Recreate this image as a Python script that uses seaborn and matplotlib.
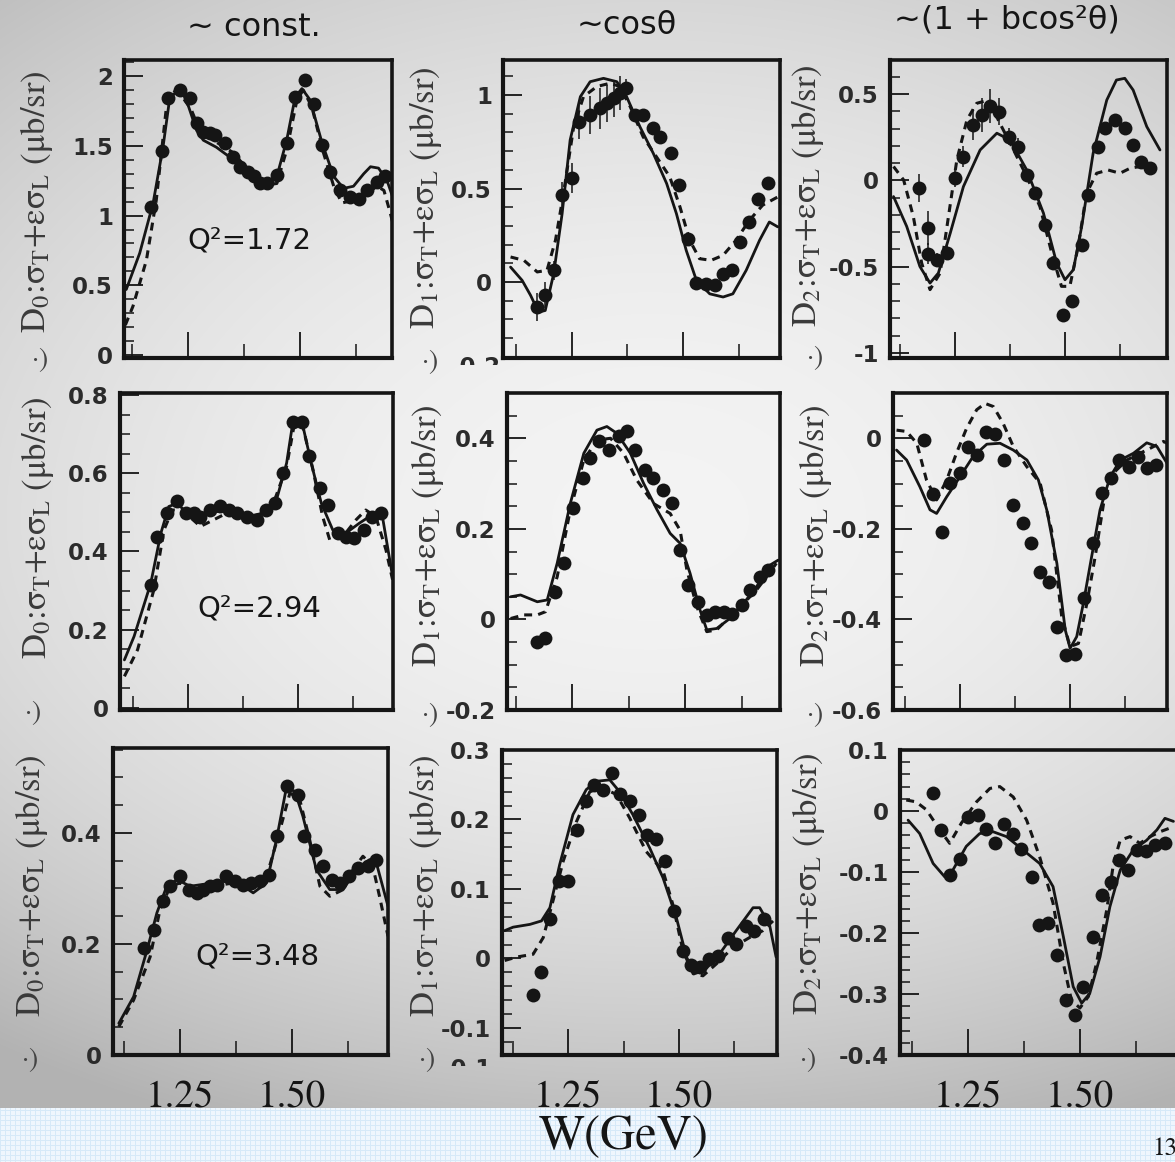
import numpy as np
import matplotlib
matplotlib.use('Agg')
import matplotlib.pyplot as plt
import seaborn as sns
from matplotlib.ticker import MultipleLocator
from matplotlib.transforms import Bbox, TransformedBbox

sns.set_style('ticks')
plt.rcParams['font.family'] = ['DejaVu Sans']
plt.rcParams['mathtext.fontset'] = 'stix'

# ---------------- data ----------------
# row 1, Q2 = 1.72
w_pts_11 = [1.168, 1.192, 1.205, 1.231, 1.254, 1.269, 1.284, 1.299, 1.310, 1.332, 1.351, 1.366, 1.384, 1.396, 1.410,
            1.425, 1.448, 1.470, 1.489, 1.511, 1.530, 1.549, 1.567, 1.590, 1.612, 1.631, 1.649, 1.672, 1.690]
d_pts_11 = [1.06, 1.46, 1.84, 1.90, 1.84, 1.66, 1.60, 1.59, 1.58, 1.52, 1.42, 1.35, 1.31, 1.28, 1.235,
            1.235, 1.29, 1.52, 1.85, 1.97, 1.80, 1.505, 1.31, 1.18, 1.135, 1.12, 1.18, 1.24, 1.28]
w_sol_11 = [1.112, 1.142, 1.172, 1.194, 1.209, 1.231, 1.246, 1.269, 1.284, 1.313, 1.351, 1.396, 1.425, 1.448,
            1.470, 1.489, 1.504, 1.522, 1.549, 1.575, 1.597, 1.619, 1.642, 1.657, 1.675, 1.694, 1.709]
d_sol_11 = [0.47, 0.73, 1.09, 1.49, 1.84, 1.91, 1.83, 1.61, 1.54, 1.49, 1.40, 1.25, 1.22, 1.28,
            1.54, 1.85, 1.91, 1.83, 1.52, 1.28, 1.195, 1.21, 1.30, 1.35, 1.34, 1.25, 1.11]
w_dash_11 = [1.110, 1.127, 1.157, 1.179, 1.201, 1.220, 1.235, 1.257, 1.276, 1.306, 1.351, 1.396, 1.425, 1.448,
             1.470, 1.493, 1.507, 1.526, 1.552, 1.575, 1.593, 1.619, 1.649, 1.672, 1.687, 1.701, 1.713]
d_dash_11 = [0.215, 0.35, 0.68, 1.11, 1.76, 1.89, 1.86, 1.76, 1.61, 1.54, 1.45, 1.28, 1.22, 1.23,
             1.47, 1.83, 1.90, 1.78, 1.45, 1.21, 1.09, 1.11, 1.16, 1.21, 1.18, 1.02, 0.87]

w_pts_12 = [1.172, 1.190, 1.209, 1.228, 1.250, 1.267, 1.290, 1.313, 1.328, 1.345, 1.358, 1.372, 1.392, 1.410,
            1.433, 1.449, 1.472, 1.491, 1.510, 1.530, 1.552, 1.571, 1.590, 1.610, 1.627, 1.648, 1.668, 1.690]
d_pts_12 = [-0.134, -0.071, 0.063, 0.464, 0.554, 0.857, 0.893, 0.929, 0.955, 0.982, 1.009, 1.036, 0.893, 0.893,
            0.821, 0.777, 0.688, 0.518, 0.232, -0.005, -0.009, -0.018, 0.045, 0.066, 0.214, 0.321, 0.446, 0.530]
e_pts_12 = [0.075, 0.07, 0.05, 0.07, 0.08, 0.09, 0.10, 0.11, 0.10, 0.10, 0.09, 0.05, 0.02, 0.02,
            0.02, 0.02, 0.02, 0.02, 0.02, 0.02, 0.02, 0.02, 0.02, 0.02, 0.02, 0.02, 0.02, 0.02]
w_sol_12 = [1.112, 1.138, 1.157, 1.175, 1.190, 1.209, 1.228, 1.246, 1.269, 1.291, 1.321, 1.351, 1.373, 1.403,
            1.433, 1.463, 1.485, 1.507, 1.530, 1.560, 1.590, 1.612, 1.642, 1.672, 1.694, 1.713]
d_sol_12 = [0.080, 0.009, -0.071, -0.161, -0.152, 0.045, 0.366, 0.759, 0.991, 1.071, 1.089, 1.071, 0.991, 0.830,
            0.688, 0.527, 0.366, 0.170, 0.009, -0.063, -0.080, -0.063, 0.063, 0.223, 0.321, 0.295]
w_dash_12 = [1.112, 1.142, 1.172, 1.194, 1.213, 1.231, 1.254, 1.276, 1.306, 1.336, 1.358, 1.381, 1.410, 1.440,
             1.470, 1.493, 1.515, 1.537, 1.563, 1.590, 1.619, 1.649, 1.679, 1.713]
d_dash_12 = [0.134, 0.116, 0.054, 0.063, 0.223, 0.473, 0.830, 0.991, 1.045, 1.063, 1.045, 0.938, 0.777, 0.670,
             0.563, 0.402, 0.223, 0.125, 0.116, 0.143, 0.223, 0.330, 0.411, 0.455]

w_pts_13 = [1.169, 1.189, 1.189, 1.208, 1.231, 1.250, 1.269, 1.290, 1.311, 1.330, 1.351, 1.373, 1.392, 1.413,
            1.432, 1.455, 1.473, 1.496, 1.515, 1.538, 1.553, 1.576, 1.591, 1.614, 1.636, 1.655, 1.674, 1.693]
d_pts_13 = [-0.046, -0.277, -0.425, -0.46, -0.421, 0.012, 0.138, 0.321, 0.379, 0.431, 0.398, 0.253, 0.195, 0.032,
            -0.075, -0.258, -0.479, -0.778, -0.701, -0.373, -0.084, 0.195, 0.301, 0.350, 0.301, 0.205, 0.109, 0.070]
e_pts_13 = [0.08, 0.10, 0.06, 0.04, 0.04, 0.05, 0.06, 0.09, 0.10, 0.10, 0.08, 0.05, 0.05, 0.03,
            0.02, 0.02, 0.02, 0.02, 0.02, 0.02, 0.02, 0.02, 0.02, 0.02, 0.02, 0.02, 0.02, 0.02]
w_sol_13 = [1.110, 1.140, 1.170, 1.193, 1.212, 1.239, 1.269, 1.307, 1.345, 1.375, 1.413, 1.451, 1.481, 1.500,
            1.519, 1.538, 1.564, 1.595, 1.617, 1.636, 1.655, 1.686, 1.716]
d_sol_13 = [-0.094, -0.267, -0.499, -0.595, -0.537, -0.306, -0.036, 0.176, 0.273, 0.234, 0.060, -0.190, -0.479, -0.576,
            -0.518, -0.267, 0.157, 0.465, 0.581, 0.591, 0.523, 0.311, 0.176]
w_dash_13 = [1.110, 1.133, 1.155, 1.174, 1.193, 1.216, 1.235, 1.254, 1.277, 1.299, 1.326, 1.352, 1.383, 1.413,
             1.443, 1.470, 1.492, 1.511, 1.530, 1.549, 1.572, 1.598, 1.625, 1.648, 1.670, 1.693, 1.716]
d_dash_13 = [0.08, 0.002, -0.209, -0.479, -0.633, -0.537, -0.209, 0.118, 0.350, 0.446, 0.465, 0.330, 0.176, 0.022,
             -0.152, -0.422, -0.614, -0.614, -0.383, -0.075, 0.041, 0.060, 0.041, 0.070, 0.080, 0.070, 0.060]

# row 2, Q2 = 2.94
w_pts_21 = [1.165, 1.180, 1.203, 1.225, 1.244, 1.263, 1.278, 1.300, 1.323, 1.342, 1.361, 1.383, 1.406, 1.428,
            1.447, 1.466, 1.489, 1.508, 1.526, 1.549, 1.568, 1.590, 1.609, 1.628, 1.650, 1.669, 1.688]
d_pts_21 = [0.315, 0.438, 0.498, 0.528, 0.498, 0.498, 0.489, 0.506, 0.515, 0.506, 0.498, 0.489, 0.481, 0.506,
            0.523, 0.600, 0.732, 0.732, 0.643, 0.562, 0.519, 0.447, 0.438, 0.434, 0.455, 0.489, 0.498]
w_sol_21 = [1.105, 1.127, 1.165, 1.188, 1.206, 1.225, 1.248, 1.293, 1.338, 1.383, 1.421, 1.451, 1.474, 1.489,
            1.508, 1.530, 1.553, 1.579, 1.609, 1.639, 1.662, 1.692, 1.715]
d_sol_21 = [0.123, 0.183, 0.319, 0.447, 0.515, 0.523, 0.498, 0.498, 0.506, 0.489, 0.498, 0.532, 0.626, 0.736,
            0.736, 0.626, 0.523, 0.455, 0.447, 0.472, 0.489, 0.489, 0.336]
w_dash_21 = [1.105, 1.135, 1.172, 1.195, 1.214, 1.236, 1.278, 1.338, 1.398, 1.444, 1.474, 1.492, 1.511, 1.534,
             1.556, 1.572, 1.602, 1.632, 1.654, 1.677, 1.700, 1.715]
d_dash_21 = [0.081, 0.149, 0.302, 0.455, 0.506, 0.506, 0.464, 0.498, 0.481, 0.523, 0.617, 0.728, 0.719, 0.609,
             0.489, 0.430, 0.438, 0.481, 0.506, 0.489, 0.404, 0.328]

w_pts_22 = [1.173, 1.191, 1.213, 1.232, 1.252, 1.274, 1.290, 1.309, 1.331, 1.353, 1.371, 1.390, 1.412, 1.430,
            1.452, 1.471, 1.489, 1.507, 1.529, 1.548, 1.566, 1.585, 1.603, 1.625, 1.643, 1.665, 1.684]
d_pts_22 = [-0.049, -0.042, 0.061, 0.125, 0.245, 0.312, 0.356, 0.393, 0.374, 0.404, 0.415, 0.374, 0.330, 0.312,
            0.286, 0.256, 0.153, 0.076, 0.039, 0.010, 0.017, 0.017, 0.013, 0.032, 0.065, 0.094, 0.109]
w_sol_22 = [1.114, 1.136, 1.173, 1.195, 1.217, 1.246, 1.276, 1.305, 1.327, 1.349, 1.379, 1.408, 1.438, 1.467,
            1.489, 1.511, 1.533, 1.548, 1.570, 1.599, 1.629, 1.658, 1.688, 1.706]
d_sol_22 = [0.050, 0.054, 0.039, 0.043, 0.124, 0.256, 0.367, 0.418, 0.426, 0.411, 0.367, 0.301, 0.242, 0.190,
            0.168, 0.102, 0.021, -0.023, -0.020, 0.002, 0.035, 0.072, 0.120, 0.131]
w_dash_22 = [1.114, 1.143, 1.173, 1.191, 1.217, 1.246, 1.276, 1.305, 1.335, 1.364, 1.393, 1.430, 1.467, 1.489,
             1.504, 1.526, 1.548, 1.570, 1.599, 1.629, 1.658, 1.680, 1.702]
d_dash_22 = [0.002, 0.010, 0.010, 0.017, 0.094, 0.242, 0.352, 0.396, 0.400, 0.367, 0.308, 0.256, 0.234, 0.197,
             0.109, 0.028, -0.027, -0.023, 0.006, 0.035, 0.065, 0.094, 0.124]

w_pts_23 = [1.168, 1.189, 1.210, 1.227, 1.250, 1.269, 1.289, 1.309, 1.330, 1.350, 1.371, 1.392, 1.411, 1.432,
            1.451, 1.471, 1.491, 1.511, 1.532, 1.552, 1.572, 1.592, 1.612, 1.633, 1.655, 1.674, 1.695]
d_pts_23 = [-0.004, -0.123, -0.206, -0.099, -0.077, -0.020, -0.037, 0.013, 0.010, -0.048, -0.147, -0.188, -0.232,
            -0.295, -0.317, -0.416, -0.479, -0.476, -0.353, -0.232, -0.120, -0.088, -0.049, -0.063, -0.042, -0.066,
            -0.059]
w_sol_23 = [1.106, 1.129, 1.159, 1.182, 1.197, 1.220, 1.250, 1.280, 1.311, 1.341, 1.371, 1.402, 1.428, 1.447,
            1.470, 1.489, 1.500, 1.515, 1.530, 1.549, 1.568, 1.591, 1.614, 1.644, 1.674, 1.697, 1.720]
d_sol_23 = [-0.026, -0.048, -0.107, -0.158, -0.166, -0.129, -0.085, -0.040, -0.013, -0.011, -0.026, -0.048, -0.092,
            -0.158, -0.276, -0.423, -0.464, -0.438, -0.365, -0.261, -0.158, -0.085, -0.048, -0.033, -0.010, -0.018,
            -0.055]
w_dash_23 = [1.106, 1.129, 1.152, 1.174, 1.197, 1.220, 1.242, 1.265, 1.288, 1.307, 1.326, 1.348, 1.371, 1.402,
             1.432, 1.458, 1.481, 1.500, 1.519, 1.538, 1.557, 1.576, 1.598, 1.629, 1.659, 1.682, 1.712, 1.720]
d_dash_23 = [0.018, 0.015, -0.011, -0.092, -0.136, -0.092, -0.033, 0.022, 0.063, 0.077, 0.070, 0.033, -0.018,
             -0.063, -0.099, -0.203, -0.394, -0.460, -0.453, -0.365, -0.261, -0.144, -0.077, -0.048, -0.033, -0.022,
             -0.007, -0.011]

# row 3, Q2 = 3.48
w_pts_31 = [1.170, 1.192, 1.211, 1.228, 1.250, 1.269, 1.287, 1.302, 1.317, 1.332, 1.352, 1.372, 1.391, 1.409,
            1.428, 1.449, 1.467, 1.489, 1.512, 1.526, 1.550, 1.569, 1.588, 1.606, 1.627, 1.647, 1.669, 1.688]
d_pts_31 = [0.192, 0.226, 0.277, 0.304, 0.322, 0.298, 0.292, 0.298, 0.304, 0.307, 0.322, 0.313, 0.307, 0.310,
            0.313, 0.325, 0.394, 0.484, 0.469, 0.394, 0.370, 0.340, 0.316, 0.310, 0.322, 0.337, 0.340, 0.352]
w_sol_31 = [1.113, 1.146, 1.176, 1.198, 1.220, 1.243, 1.272, 1.324, 1.369, 1.413, 1.443, 1.465, 1.487, 1.506,
            1.524, 1.554, 1.584, 1.614, 1.643, 1.673, 1.688, 1.714]
d_sol_31 = [0.057, 0.105, 0.189, 0.256, 0.304, 0.316, 0.304, 0.310, 0.316, 0.292, 0.310, 0.388, 0.481, 0.475,
            0.430, 0.334, 0.298, 0.298, 0.334, 0.352, 0.346, 0.268]
w_dash_31 = [1.113, 1.146, 1.183, 1.205, 1.228, 1.250, 1.280, 1.324, 1.369, 1.413, 1.443, 1.469, 1.495, 1.517,
             1.539, 1.562, 1.584, 1.614, 1.636, 1.658, 1.680, 1.695, 1.714]
d_dash_31 = [0.051, 0.099, 0.177, 0.262, 0.304, 0.310, 0.292, 0.304, 0.310, 0.304, 0.322, 0.394, 0.472, 0.460,
             0.388, 0.304, 0.286, 0.298, 0.334, 0.358, 0.340, 0.286, 0.214]

w_pts_32 = [1.170, 1.190, 1.210, 1.230, 1.250, 1.270, 1.291, 1.308, 1.329, 1.350, 1.368, 1.390, 1.410, 1.428,
            1.449, 1.468, 1.488, 1.509, 1.528, 1.548, 1.568, 1.588, 1.610, 1.629, 1.650, 1.670, 1.691]
d_pts_32 = [-0.052, -0.020, 0.057, 0.111, 0.111, 0.185, 0.226, 0.250, 0.243, 0.267, 0.236, 0.226, 0.207, 0.177,
            0.172, 0.140, 0.068, 0.011, -0.010, -0.013, -0.001, 0.004, 0.030, 0.021, 0.047, 0.040, 0.057]
w_sol_32 = [1.107, 1.126, 1.164, 1.190, 1.209, 1.231, 1.261, 1.291, 1.314, 1.344, 1.366, 1.396, 1.434, 1.464,
            1.494, 1.517, 1.535, 1.558, 1.592, 1.629, 1.667, 1.682, 1.704, 1.719]
d_sol_32 = [0.040, 0.045, 0.049, 0.054, 0.073, 0.135, 0.207, 0.243, 0.255, 0.257, 0.240, 0.207, 0.159, 0.116,
            0.059, 0.002, -0.022, -0.017, 0.007, 0.040, 0.073, 0.073, 0.049, 0.002]
w_dash_32 = [1.107, 1.134, 1.171, 1.194, 1.216, 1.239, 1.269, 1.299, 1.329, 1.359, 1.389, 1.426, 1.464, 1.486,
             1.509, 1.532, 1.554, 1.584, 1.622, 1.659, 1.689, 1.712]
d_dash_32 = [-0.003, 0.002, 0.006, 0.030, 0.083, 0.140, 0.197, 0.240, 0.245, 0.236, 0.202, 0.154, 0.126, 0.078,
             0.011, -0.022, -0.025, -0.008, 0.016, 0.030, 0.040, 0.054]

w_pts_33 = [1.172, 1.190, 1.210, 1.231, 1.250, 1.272, 1.291, 1.310, 1.330, 1.351, 1.369, 1.392, 1.409, 1.429,
            1.448, 1.468, 1.489, 1.507, 1.530, 1.549, 1.569, 1.588, 1.608, 1.627, 1.648, 1.668, 1.690]
d_pts_33 = [0.030, -0.031, -0.105, -0.078, -0.010, -0.007, -0.030, -0.053, -0.021, -0.038, -0.063, -0.108, -0.187,
            -0.183, -0.236, -0.310, -0.334, -0.289, -0.206, -0.138, -0.116, -0.081, -0.096, -0.064, -0.065, -0.056,
            -0.052]
w_sol_33 = [1.116, 1.142, 1.172, 1.198, 1.216, 1.246, 1.276, 1.306, 1.336, 1.373, 1.410, 1.440, 1.463, 1.485,
            1.504, 1.522, 1.545, 1.567, 1.590, 1.619, 1.649, 1.672, 1.690, 1.709]
d_sol_33 = [-0.015, -0.037, -0.086, -0.108, -0.097, -0.058, -0.037, -0.034, -0.042, -0.064, -0.086, -0.124, -0.206,
            -0.288, -0.315, -0.299, -0.239, -0.157, -0.097, -0.064, -0.048, -0.031, -0.012, -0.017]
w_dash_33 = [1.112, 1.134, 1.157, 1.187, 1.209, 1.235, 1.269, 1.299, 1.321, 1.351, 1.381, 1.410, 1.440, 1.463,
             1.481, 1.500, 1.519, 1.537, 1.560, 1.575, 1.590, 1.612, 1.634, 1.657, 1.679, 1.701]
d_dash_33 = [0.018, 0.015, 0.002, -0.031, -0.053, -0.020, 0.015, 0.037, 0.040, 0.023, -0.015, -0.075, -0.151,
             -0.250, -0.310, -0.323, -0.304, -0.250, -0.162, -0.086, -0.048, -0.042, -0.053, -0.042, -0.034, -0.028]

col_titles = ['~ const.', '~cosθ', '~(1 + bcos²θ)']
q2_labels = ['Q²=1.72', 'Q²=2.94', 'Q²=3.48']
y_labels = [r'D$_0$:σ$_\mathrm{T}$+εσ$_\mathrm{L}$ (μb/sr)',
            r'D$_1$:σ$_\mathrm{T}$+εσ$_\mathrm{L}$ (μb/sr)',
            r'D$_2$:σ$_\mathrm{T}$+εσ$_\mathrm{L}$ (μb/sr)']

# ---------------- layout ----------------
W, H = 1175, 1162
fig = plt.figure(figsize=(W / 100, H / 100), dpi=100)

# slide background: grey vignette + light blue grid strip at the bottom
yy, xx = np.mgrid[0:H, 0:W].astype(float)
ky = np.where(yy < 520, 0.14, 0.20)
g = 0.955 - 0.09 * ((xx - 650) / 650) ** 2 - ky * ((yy - 520) / 580) ** 2
g = np.clip(g, 0.7, 1.0)
img = np.dstack([g, g, g])
band = yy >= 1108
blue = np.array([0.94, 0.968, 0.995])
line = np.array([0.84, 0.915, 0.975])
grid = ((xx % 5 == 0) | (yy % 5 == 0)) & band
img[band] = blue
img[grid] = line
bg = fig.add_axes([0, 0, 1, 1], zorder=-10)
bg.imshow(img, extent=[0, W, H, 0], aspect='auto', interpolation='nearest')
bg.set_axis_off()

# panel boxes in pixels: left, right, top, bottom
boxes = {
    (0, 0): (124, 392, 60, 358), (0, 1): (503, 780, 60, 358), (0, 2): (890, 1167, 60, 358),
    (1, 0): (120, 393, 393, 710), (1, 1): (507, 780, 393, 710), (1, 2): (893, 1167, 393, 710),
    (2, 0): (113, 388, 748, 1055), (2, 1): (502, 777, 750, 1055), (2, 2): (900, 1190, 750, 1055),
}
xlims = {
    (0, 0): (1.107, 1.705), (0, 1): (1.095, 1.718), (0, 2): (1.102, 1.732),
    (1, 0): (1.095, 1.716), (1, 1): (1.106, 1.710), (1, 2): (1.098, 1.720),
    (2, 0): (1.100, 1.714), (2, 1): (1.101, 1.721), (2, 2): (1.098, 1.746),
}
ylims = {
    (0, 0): (-0.021, 2.115), (0, 1): (-0.406, 1.187), (0, 2): (-1.029, 0.697),
    (1, 0): (-0.005, 0.805), (1, 1): (-0.2, 0.50), (1, 2): (-0.6, 0.10),
    (2, 0): (0.0, 0.553), (2, 1): (-0.139, 0.30), (2, 2): (-0.4, 0.10),
}
ysteps = {
    (0, 0): (0.5, 0.1), (0, 1): (0.5, 0.1), (0, 2): (0.5, 0.1),
    (1, 0): (0.2, 0.05), (1, 1): (0.2, 0.05), (1, 2): (0.2, 0.05),
    (2, 0): (0.2, 0.05), (2, 1): (0.1, 0.02), (2, 2): (0.1, 0.02),
}

series = {
    (0, 0): (w_pts_11, d_pts_11, None, w_sol_11, d_sol_11, w_dash_11, d_dash_11),
    (0, 1): (w_pts_12, d_pts_12, e_pts_12, w_sol_12, d_sol_12, w_dash_12, d_dash_12),
    (0, 2): (w_pts_13, d_pts_13, e_pts_13, w_sol_13, d_sol_13, w_dash_13, d_dash_13),
    (1, 0): (w_pts_21, d_pts_21, None, w_sol_21, d_sol_21, w_dash_21, d_dash_21),
    (1, 1): (w_pts_22, d_pts_22, None, w_sol_22, d_sol_22, w_dash_22, d_dash_22),
    (1, 2): (w_pts_23, d_pts_23, None, w_sol_23, d_sol_23, w_dash_23, d_dash_23),
    (2, 0): (w_pts_31, d_pts_31, None, w_sol_31, d_sol_31, w_dash_31, d_dash_31),
    (2, 1): (w_pts_32, d_pts_32, None, w_sol_32, d_sol_32, w_dash_32, d_dash_32),
    (2, 2): (w_pts_33, d_pts_33, None, w_sol_33, d_sol_33, w_dash_33, d_dash_33),
}

INK = '#151515'


def fx(x):
    return x / W


def fy(y):
    return 1 - y / H


for (r, c), (L, R, T, B) in boxes.items():
    ax = fig.add_axes([fx(L), fy(B), (R - L) / W, (B - T) / H])
    ax.set_facecolor('none')
    wp, dp, ep, ws, ds, wd, dd = series[(r, c)]

    sns.lineplot(x=ws, y=ds, ax=ax, color=INK, linewidth=2.0, estimator=None, sort=False)
    sns.lineplot(x=wd, y=dd, ax=ax, color=INK, linewidth=2.2, linestyle=(0, (2.6, 2.0)),
                 estimator=None, sort=False)
    if ep is not None:
        ax.errorbar(wp, dp, yerr=ep, fmt='none', ecolor=INK, elinewidth=1.1, capsize=0, zorder=3)
    sns.scatterplot(x=wp, y=dp, ax=ax, color=INK, s=100, linewidth=0, zorder=4)

    ax.set_xlim(*xlims[(r, c)])
    ax.set_ylim(*ylims[(r, c)])
    ax.set_xlabel('')
    ax.set_ylabel('')

    maj, mnr = ysteps[(r, c)]
    ax.xaxis.set_major_locator(MultipleLocator(0.25))
    ax.xaxis.set_minor_locator(MultipleLocator(0.125))
    lo, hi = ylims[(r, c)]
    yt = [v for v in MultipleLocator(maj).tick_values(lo, hi) if lo - 1e-6 <= v <= hi + 1e-6]
    ax.set_yticks(yt)
    ax.set_yticklabels(['%g' % round(v, 3) for v in yt], fontfamily='DejaVu Sans',
                       fontweight='bold', fontsize=16.5, color='#2b2b2b')
    ax.yaxis.set_minor_locator(MultipleLocator(mnr))

    for name, s in ax.spines.items():
        s.set_visible(True)
        s.set_color(INK)
        s.set_linewidth(3.0 if name in ('left', 'bottom') else 2.6)
    ax.tick_params(which='both', direction='in', top=False, right=False, color=INK)
    ax.tick_params(axis='y', which='major', length=14, width=1.3, pad=8)
    ax.tick_params(axis='y', which='minor', length=7, width=1.1)
    ax.tick_params(axis='x', which='major', length=19, width=1.3)
    ax.tick_params(axis='x', which='minor', length=10, width=1.1)
    if r == 2:
        ax.set_xticks([1.25, 1.50])
        ax.set_xticklabels(['1.25', '1.50'], fontfamily='STIXGeneral', fontsize=28, color=INK)
        ax.tick_params(axis='x', which='major', pad=18)
    else:
        ax.tick_params(axis='x', labelbottom=False)

# column titles
for x, y, t in zip([254, 627, 1007], [27, 25, 20], col_titles):
    fig.text(fx(x), fy(y), t, ha='center', va='center', fontsize=23, color=INK, family='DejaVu Sans')

# Q^2 annotations
for x, y, t in zip([249, 259, 257], [240, 608, 957], q2_labels):
    fig.text(fx(x), fy(y), t, ha='center', va='center', fontsize=21, color=INK, family='DejaVu Sans')

# rotated y labels
ylab_pos = {
    (0, 0): (37, 202), (0, 1): (426, 198), (0, 2): (807, 196),
    (1, 0): (38, 528), (1, 1): (428, 536), (1, 2): (816, 536),
    (2, 0): (32, 886), (2, 1): (425, 886), (2, 2): (809, 884),
}
for (r, c), (x, y) in ylab_pos.items():
    fig.text(fx(x), fy(y), y_labels[c], rotation=90, ha='center', va='center',
             fontsize=25, color='#3a3a3a', family='STIXGeneral')

# leftover bracket fragments from the cropped source figure
frag_pos = [(40, 360), (430, 362), (815, 358), (33, 713), (430, 715), (815, 715),
            (30, 1060), (427, 1060), (808, 1060)]
for x, y in frag_pos:
    fig.text(fx(x), fy(y), '·)', ha='center', va='center', fontsize=20, color='#444444',
             family='STIXGeneral')

# half-cut tick labels at the bottom of two middle panels
for x, y, ycut, t in [(501, 367, 365, '-0.2'), (492, 1069, 1066, '-0.1')]:
    tt = fig.text(fx(x), fy(y), t, ha='right', va='center', fontsize=16.5, fontweight='bold',
                  color='#2b2b2b', family='DejaVu Sans')
    tt.set_clip_box(TransformedBbox(Bbox.from_extents(0, fy(ycut), 1, 1), fig.transFigure))
    tt.set_clip_on(True)

fig.text(fx(624), fy(1138), 'W(GeV)', ha='center', va='center', fontsize=35, color=INK,
         family='STIXGeneral')
fig.text(fx(1152), fy(1149), '13', ha='left', va='center', fontsize=18, color=INK, family='STIXGeneral')

fig.savefig('out.png', dpi=100)
